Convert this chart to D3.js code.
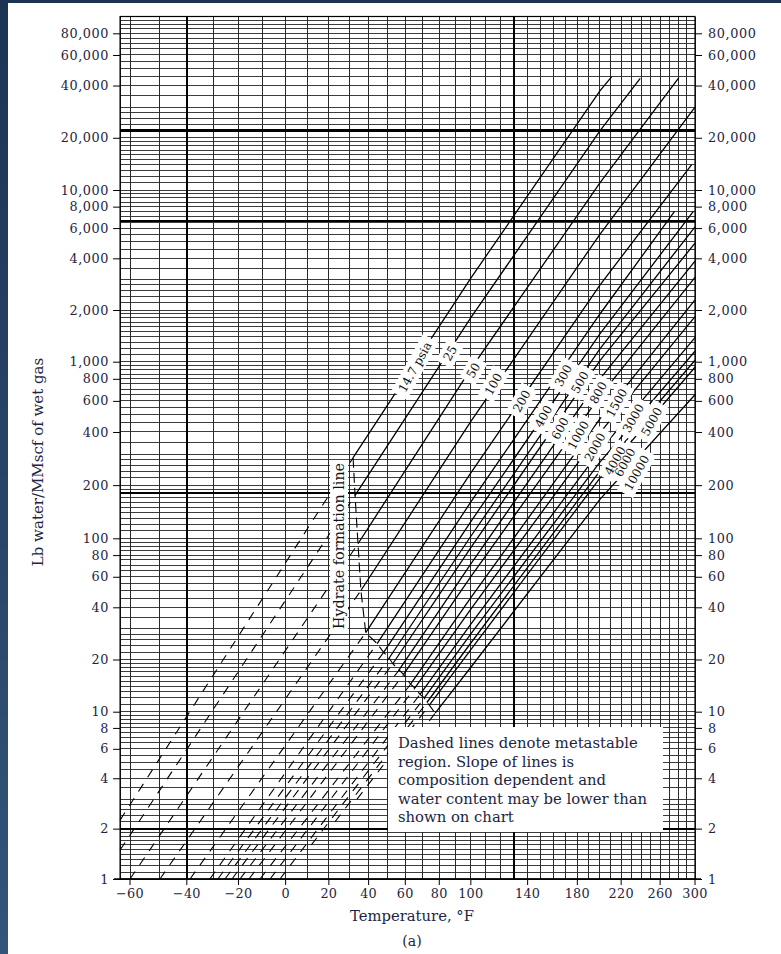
<!DOCTYPE html>
<html>
<head>
<meta charset="utf-8">
<script src="https://cdn.jsdelivr.net/npm/d3@7"></script>
<style>
  body { margin: 0; background: #fff; }
  svg { display: block; }
  text { font-family: "DejaVu Serif", "Liberation Serif", serif; }
</style>
</head>
<body>
<svg id="chart" width="781" height="954"></svg>
<script>
// ---- Axis ticks ----
const yTickValues = [1, 2, 4, 6, 8, 10, 20, 40, 60, 80, 100, 200, 400, 600, 800,
  1000, 2000, 4000, 6000, 8000, 10000, 20000, 40000, 60000, 80000];
const xTickValues = [-60, -40, -20, 0, 20, 40, 60, 80, 100, 140, 180, 220, 260, 300];

// heavier rules of the printed grid
const heavyRows = [2, 180, 6600, 22000];
const heavyCols = [-40, 130];

// ---- Pressure lines (psia) ----
const pressureLabels = ["14.7 psia", "25", "50", "100", "200", "300", "400", "500", "600",
  "800", "1000", "1500", "2000", "3000", "4000", "5000", "6000", "10000"];

// lower end of each metastable (dashed) segment: [°F, lb/MMscf]
const lowEnds = [[-63.3, 2.25], [-63.3, 1.49], [-60, 1], [-49.7, 1], [-38.8, 1], [-31.3, 1],
  [-28.2, 1], [-25.4, 1], [-22.6, 1], [-19.4, 1], [-15.7, 1], [-11.1, 1], [-6.8, 1],
  [-2.5, 1], [11.7, 1.6], [23, 2.2], [34, 3.0], [50.3, 4.2]];

// hydrate formation points, where each line turns solid
const hydratePts = [[32, 286], [33, 175], [34.5, 93], [36, 50], [38.5, 28.6], [44.5, 24.7],
  [48, 22], [51, 20.4], [53, 18.9], [56.5, 17.4], [59, 16.4], [63, 14.4], [65.5, 13.7],
  [68.5, 12.6], [71, 12.0], [72.5, 11.3], [74, 10.9], [77.5, 9.8]];

// stable part above the hydrate point
const upperPts = [
  [[100, 3070], [200, 37240], [211, 45000]],
  [[100, 1805], [200, 21900], [239, 44000]],
  [[100, 910], [200, 10990], [281, 44400]],
  [[100, 459], [200, 5520], [300, 30000]],
  [[100, 235], [200, 2794], [296, 14000]],
  [[100, 160.6], [200, 1896], [276, 7500]],
  [[100, 124.4], [200, 1453], [298, 7500]],
  [[100, 102.7], [200, 1188], [300, 6100]],
  [[100, 88.4], [200, 1015], [300, 4900]],
  [[100, 71.1], [200, 799], [300, 3850]],
  [[100, 60.1], [200, 639], [300, 3100]],
  [[100, 45.5], [200, 474], [300, 2290]],
  [[100, 39.1], [200, 395], [300, 1830]],
  [[100, 32.0], [200, 314], [300, 1380]],
  [[100, 28.1], [200, 270], [300, 1150]],
  [[100, 24.9], [200, 240], [300, 1020]],
  [[100, 22.8], [200, 219], [300, 930]],
  [[100, 18.05], [200, 166], [300, 650]]
];

// where each pressure label sits on its line
const labelAt = [[65.5, 933], [86.6, 1120], [101.6, 893], [115.2, 747], [135.5, 598],
  [168.2, 835], [152.1, 490], [182.3, 764], [165.5, 419], [198.5, 668], [180.8, 384],
  [215.7, 585], [195.5, 328], [232, 479], [214.1, 275], [250.9, 458], [223.7, 269],
  [235.4, 235]];

const noteLines = ["Dashed lines denote metastable", "region. Slope of lines is",
  "composition dependent and", "water content may be lower than", "shown on chart"];

// ---- Scales ----
const tMin = -63.3, tMax = 300;
const recip = d3.scaleLinear()
  .domain([1 / (-60 + 459.67), 1 / (300 + 459.67)])
  .range([130, 695]);
const x = t => recip(1 / (t + 459.67));
const y = d3.scaleLog()
  .domain([1, 10, 100, 1000, 10000, 100000])
  .range([879, 711.7, 538.3, 361.7, 190, 16.5]);

const plotL = x(tMin), plotR = x(tMax), plotT = y(100000), plotB = y(1);

const svg = d3.select("#chart");
const ink = "#1d2544";

// page edge
const defs = svg.append("defs");
const g0 = defs.append("linearGradient").attr("id", "edge")
  .attr("x1", 0).attr("y1", 0).attr("x2", 0).attr("y2", 1);
g0.append("stop").attr("offset", 0).attr("stop-color", "#1c3354");
g0.append("stop").attr("offset", 1).attr("stop-color", "#33557a");
svg.append("rect").attr("width", 781).attr("height", 954).attr("fill", "#fff");
svg.append("rect").attr("x", 0).attr("y", 0).attr("width", 8).attr("height", 954).attr("fill", "url(#edge)");
svg.append("rect").attr("x", 0).attr("y", 0).attr("width", 781).attr("height", 3).attr("fill", "#1c3354");

// ---- Grid ----
const grid = svg.append("g").attr("shape-rendering", "crispEdges");
const mantissas = [].concat(d3.range(1, 2, 0.1), d3.range(2, 3, 0.2), d3.range(3, 10, 0.5));
const rows = [];
[1, 10, 100, 1000, 10000].forEach(dec => mantissas.forEach(m => rows.push(+(m * dec).toPrecision(4))));
rows.push(100000);
grid.selectAll("line.row").data(rows).join("line")
  .attr("x1", plotL).attr("x2", plotR)
  .attr("y1", d => y(d)).attr("y2", d => y(d))
  .attr("stroke", "#3c3c3c").attr("stroke-width", 1);
const cols = d3.range(-60, 300, 10).concat([tMin, tMax]);
grid.selectAll("line.col").data(cols).join("line")
  .attr("x1", d => x(d)).attr("x2", d => x(d))
  .attr("y1", plotT).attr("y2", plotB)
  .attr("stroke", "#2a2a2a").attr("stroke-width", 1);
grid.selectAll("line.hrow").data(heavyRows).join("line")
  .attr("x1", plotL).attr("x2", plotR)
  .attr("y1", d => y(d)).attr("y2", d => y(d))
  .attr("stroke", "#000").attr("stroke-width", 2.2);
grid.selectAll("line.hcol").data(heavyCols).join("line")
  .attr("x1", d => x(d)).attr("x2", d => x(d))
  .attr("y1", plotT).attr("y2", plotB)
  .attr("stroke", "#000").attr("stroke-width", 2.2);

// ---- Axes ----
const axisLeft = d3.axisLeft(y).tickValues(yTickValues).tickSize(7).tickPadding(4)
  .tickFormat(d3.format(","));
const axisRight = d3.axisRight(y).tickValues(yTickValues).tickSize(7).tickPadding(6)
  .tickFormat(d3.format(","));
function styleAxis(sel) {
  sel.selectAll(".tick line").attr("stroke", "#000");
  sel.selectAll(".tick text").attr("fill", ink)
    .style("font-family", "'DejaVu Serif', serif").style("font-size", "12.8px")
    .style("letter-spacing", "0.6px");
}
svg.append("g").attr("transform", `translate(${plotL},0)`).call(axisLeft).call(styleAxis)
  .call(s => s.select(".domain").remove());
svg.append("g").attr("transform", `translate(${plotR},0)`).call(axisRight).call(styleAxis)
  .call(s => s.select(".domain").remove());

// bottom axis: positions follow the reciprocal temperature scale
const xb = svg.append("g");
xb.append("line").attr("x1", plotL - 6).attr("x2", plotR + 6)
  .attr("y1", plotB).attr("y2", plotB).attr("stroke", "#000").attr("stroke-width", 1.5);
xb.selectAll("line.t").data(xTickValues).join("line")
  .attr("x1", d => x(d)).attr("x2", d => x(d))
  .attr("y1", plotB).attr("y2", plotB + 6).attr("stroke", "#000");
xb.selectAll("text").data(xTickValues).join("text")
  .attr("x", d => x(d)).attr("y", plotB + 19)
  .attr("text-anchor", "middle").attr("fill", ink)
  .style("font-size", "12.8px").style("letter-spacing", "0.3px")
  .text(d => d < 0 ? "\u2212" + Math.abs(d) : d);

// frame
svg.append("rect").attr("x", plotL).attr("y", plotT)
  .attr("width", plotR - plotL).attr("height", plotB - plotT)
  .attr("fill", "none").attr("stroke", "#000").attr("stroke-width", 1.2);

// ---- Water content lines ----
const line = d3.line().x(d => x(d[0])).y(d => y(d[1]));
const curves = svg.append("g").attr("fill", "none").attr("stroke", "#000");
pressureLabels.forEach((p, i) => {
  curves.append("path").attr("d", line([lowEnds[i], hydratePts[i]]))
    .attr("stroke-width", 1.1).attr("stroke-dasharray", "9,8");
  curves.append("path").attr("d", line([hydratePts[i]].concat(upperPts[i])))
    .attr("stroke-width", 1.3);
});
// hydrate formation line
curves.append("path").attr("d", line(hydratePts))
  .attr("stroke-width", 1.1).attr("stroke-dasharray", "10,5");

// ---- Labels on the lines: white patches first, then the text on top ----
const labels = svg.append("g");
const patchLayer = labels.append("g");
const textLayer = labels.append("g");
pressureLabels.forEach((p, i) => {
  const [t, w] = labelAt[i];
  const tf = `translate(${x(t)},${y(w)}) rotate(-61)`;
  const txt = textLayer.append("text").attr("transform", tf)
    .attr("text-anchor", "middle").attr("dy", "0.35em")
    .attr("fill", "#111").style("font-size", "12px").text(p);
  const len = txt.node().getComputedTextLength();
  patchLayer.append("rect").attr("transform", tf).attr("fill", "#fff")
    .attr("x", -len / 2 - 5).attr("y", -9).attr("width", len + 10).attr("height", 18);
});

// hydrate line caption
const hc = svg.append("g").attr("transform", `translate(${x(25)},546) rotate(-90)`);
const hcText = hc.append("text").attr("text-anchor", "middle").attr("dy", "0.35em")
  .attr("fill", "#111").style("font-size", "14.3px").text("Hydrate formation line");
const hcLen = hcText.node().getComputedTextLength();
hc.insert("rect", "text").attr("x", -hcLen / 2 - 3).attr("y", -9)
  .attr("width", hcLen + 6).attr("height", 18).attr("fill", "#fff");

// ---- Note box ----
const nx = 388, ny = 727;
svg.append("rect").attr("x", nx).attr("y", ny).attr("width", 275).attr("height", 105)
  .attr("fill", "#fff");
svg.append("g").selectAll("text").data(noteLines).join("text")
  .attr("x", nx + 10).attr("y", (d, i) => ny + 21 + i * 18.5)
  .attr("fill", ink).style("font-size", "14.8px").text(d => d);

// ---- Titles ----
svg.append("text").attr("transform", `translate(43,462) rotate(-90)`)
  .attr("text-anchor", "middle").attr("fill", ink).style("font-size", "15px")
  .text("Lb water/MMscf of wet gas");
svg.append("text").attr("x", 412).attr("y", 921).attr("text-anchor", "middle")
  .attr("fill", ink).style("font-size", "14.8px").text("Temperature, \u00B0F");
svg.append("text").attr("x", 412).attr("y", 946).attr("text-anchor", "middle")
  .attr("fill", ink).style("font-size", "14px").text("(a)");
</script>
</body>
</html>
